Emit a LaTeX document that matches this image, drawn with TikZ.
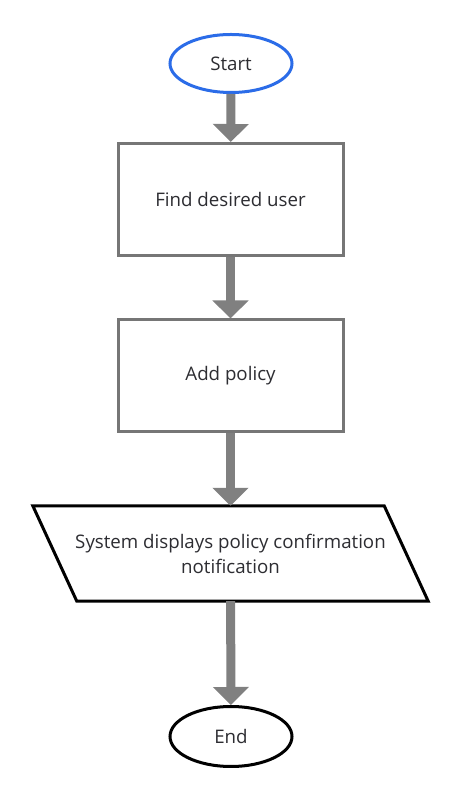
\documentclass[tikz,border=0pt]{standalone}
\usepackage{fontspec}
\setmainfont{Open Sans}
\usetikzlibrary{arrows.meta,shapes.geometric}

\begin{document}
\begin{tikzpicture}[x=1pt,y=1pt,
  txt/.style={text=textColor,font=\fontsize{18.7}{25}\selectfont,inner sep=0pt},
  term/.style={txt,ellipse,line width=3pt,minimum width=122pt,minimum height=58pt},
  procbox/.style={txt,rectangle,draw=boxColor,line width=3pt,minimum width=225pt,minimum height=112pt},
  iobox/.style={txt,rectangle,minimum width=351pt,minimum height=95pt,align=center},
  ioline/.style={draw=black,line width=3pt,line join=miter},
  flow/.style={draw=arrowColor,line width=9pt,-{Triangle[width=35pt,length=18pt]}}]
\definecolor{fillColor}{RGB}{255,255,255}
\definecolor{textColor}{RGB}{45,45,50}
\definecolor{startColor}{RGB}{43,108,232}
\definecolor{boxColor}{RGB}{118,118,118}
\definecolor{arrowColor}{RGB}{128,128,128}
\path[use as bounding box,fill=fillColor] (0,0) rectangle (472,812);

\node[term,draw=startColor] (start) at (231,748.5) {Start};

\node[procbox] (find) at (230.5,612.5) {Find desired user};

\node[procbox] (add) at (230.5,436) {Add policy};

\node[iobox] (show) at (230.5,258.5) {System displays policy confirmation\\notification};
\path[ioline] ([xshift=-22pt]show.north west) -- ([xshift=-22pt]show.north east)
  -- ([xshift=22pt]show.south east) -- ([xshift=22pt]show.south west) -- cycle;

\node[term,draw=black,minimum height=60pt] (end) at (231,75.5) {End};

\path[flow] (start) -- (find);
\path[flow] (find) -- (add);
\path[flow] (add) -- (show);
\path[flow] (show) -- (end);
\end{tikzpicture}
\end{document}
